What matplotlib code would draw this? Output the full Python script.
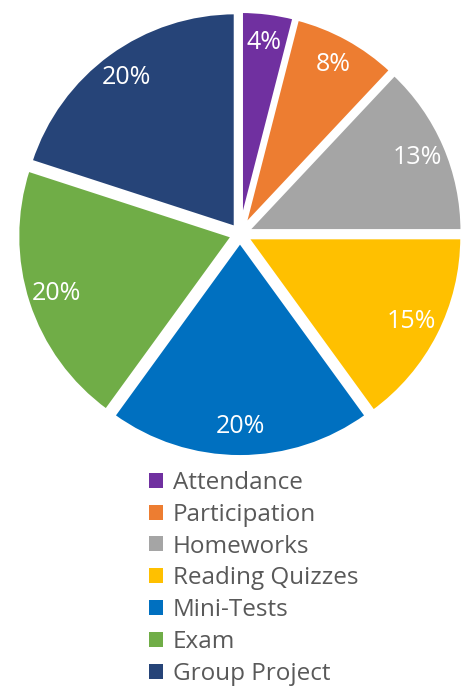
import matplotlib.pyplot as plt
from matplotlib.patches import Patch

categories = ["Attendance", "Participation", "Homeworks", "Reading Quizzes",
              "Mini-Tests", "Exam", "Group Project"]
shares = [4, 8, 13, 15, 20, 20, 20]
colors = ["#7030A0", "#ED7D31", "#A5A5A5", "#FFC000", "#0070C0", "#70AD47", "#264478"]

plt.rcParams['font.family'] = ['Open Sans', 'DejaVu Sans']

W, H = 462, 687
fig = plt.figure(figsize=(W / 100, H / 100), dpi=100)
# pie centre near (240, 234) px, radius ~216 px
rpx = 216
side = 2.2 * rpx
cx, cy = 240, 234
ax = fig.add_axes([(cx - side / 2) / W, (H - cy - side / 2) / H, side / W, side / H])

wedges, texts, autotexts = ax.pie(
    shares, colors=colors, startangle=90, counterclock=False,
    explode=[0.033] * len(shares), radius=1.0,
    autopct='%d%%', pctdistance=0.86,
    wedgeprops=dict(edgecolor='white', linewidth=3),
    textprops=dict(color='white', fontsize=18))
ax.set_xlim(-1.1, 1.1)
ax.set_ylim(-1.1, 1.1)
ax.set_aspect('equal')
ax.axis('off')

handles = [Patch(facecolor=c, edgecolor='none') for c in colors]
fig.legend(handles, categories, loc='upper left',
           bbox_to_anchor=(149 / W, 1 - 471 / H), frameon=False,
           fontsize=17.5, labelcolor='#595959', handlelength=0.57, handleheight=0.57,
           handletextpad=0.4, labelspacing=0.32, borderaxespad=0, borderpad=0)

fig.savefig("out.png", dpi=100)
